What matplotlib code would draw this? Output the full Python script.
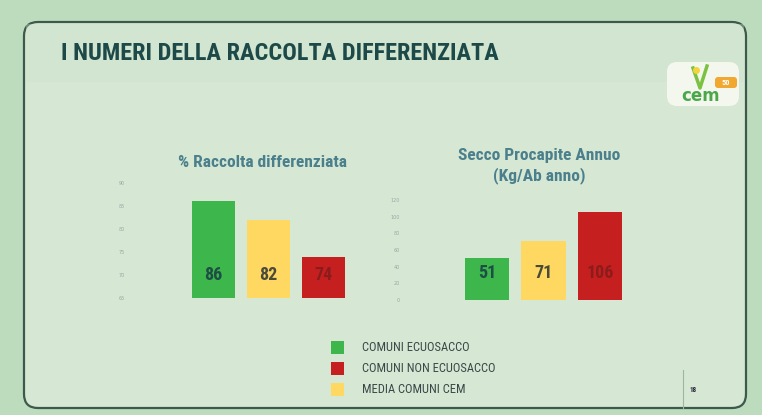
import matplotlib
matplotlib.use('Agg')
import matplotlib.pyplot as plt
from matplotlib.patches import FancyBboxPatch, Rectangle

# data
left_title = '% Raccolta differenziata'
left_vals = [86, 82, 74]
left_ticks = [65, 70, 75, 80, 85, 90]
right_title = 'Secco Procapite Annuo\n(Kg/Ab anno)'
right_vals = [51, 71, 106]
right_ticks = [0, 20, 40, 60, 80, 100, 120]
series = ['COMUNI ECUOSACCO', 'MEDIA COMUNI CEM', 'COMUNI NON ECUOSACCO']
legend_order = ['COMUNI ECUOSACCO', 'COMUNI NON ECUOSACCO', 'MEDIA COMUNI CEM']

colors = {'COMUNI ECUOSACCO': '#3db64b',
          'MEDIA COMUNI CEM': '#ffd862',
          'COMUNI NON ECUOSACCO': '#c61f1f'}
label_colors = {'COMUNI ECUOSACCO': '#1d4d45',
                'MEDIA COMUNI CEM': '#4a4a3a',
                'COMUNI NON ECUOSACCO': '#8c1c1c'}

COND = ['Roboto Condensed', 'DejaVu Sans']
W, H = 762, 415


def px(x0, y0, x1, y1):
    # pixel box (top-left origin) -> figure fraction rect
    return [x0 / W, 1 - y1 / H, (x1 - x0) / W, (y1 - y0) / H]


fig = plt.figure(figsize=(W / 100, H / 100), dpi=100)
fig.patch.set_facecolor('#bddcbd')

# slide panel
bg = fig.add_axes([0, 0, 1, 1])
bg.set_xlim(0, W)
bg.set_ylim(H, 0)
bg.axis('off')
bg.add_patch(FancyBboxPatch((24, 22), 722, 386, boxstyle='round,pad=0,rounding_size=14',
                            facecolor='#d6e8d4', edgecolor='#3c5a4c', lw=1.6))
bg.add_patch(Rectangle((26, 24), 718, 58, facecolor='#cbe2c9', edgecolor='none', alpha=0.35))
bg.text(61, 54, 'I NUMERI DELLA RACCOLTA DIFFERENZIATA', fontsize=17.5, fontweight='bold',
        color='#1d4a48', va='center', ha='left', family=COND)

# logo (approximation)
bg.add_patch(FancyBboxPatch((667, 62), 72, 44, boxstyle='round,pad=0,rounding_size=10',
                            facecolor='#f4f7ee', edgecolor='none'))
bg.plot([693, 700, 707], [68, 88, 66], color='#7cc242', lw=2.5)
bg.plot([696], [70], 'o', color='#f3d43a', ms=4)
bg.add_patch(FancyBboxPatch((715, 77), 22, 11, boxstyle='round,pad=0,rounding_size=3',
                            facecolor='#f0a830', edgecolor='none'))
bg.text(726, 82.5, '50', fontsize=6, fontweight='bold', color='white', ha='center',
        va='center', family=COND)
bg.text(701, 96, 'cem', fontsize=12, fontweight='bold', color='#4aa84a', ha='center',
        va='center')

# page number
bg.plot([683, 683], [370, 408], color='#9fb59f', lw=0.8)
bg.text(693, 390, '18', fontsize=5, fontweight='bold', color='#223', ha='center',
        va='center', family=COND)


def style_axis(ax, ticks, pad):
    ax.set_facecolor('none')
    ax.set_xlim(-0.6, 2.6)
    ax.set_ylim(ticks[0], ticks[-1])
    ax.set_yticks(ticks)
    ax.set_yticklabels([str(t) for t in ticks], fontsize=3.5, color='#9aaaa4')
    ax.tick_params(axis='y', length=0, pad=pad)
    ax.set_xticks([])
    for s in ax.spines.values():
        s.set_visible(False)


bar_cols = [colors[s] for s in series]

# left: bars start at the axis floor (65)
axl = fig.add_axes(px(180, 183, 357, 298))
axl.bar(range(3), [v - left_ticks[0] for v in left_vals], bottom=left_ticks[0], width=0.78,
        color=bar_cols, edgecolor='none')
style_axis(axl, left_ticks, 40)
for x, v, s in zip(range(3), left_vals, series):
    axl.text(x, 70, str(v), ha='center', va='center', fontsize=13,
             fontweight='bold', color=label_colors[s], family=COND)
bg.text(262, 162, left_title, ha='center', va='center', fontsize=12.5,
        fontweight='bold', color='#4b7f8c', family=COND)

# right
axr = fig.add_axes(px(453, 200, 634, 300))
axr.bar(range(3), right_vals, width=0.78, color=bar_cols, edgecolor='none')
style_axis(axr, right_ticks, 38)
for x, v, s in zip(range(3), right_vals, series):
    axr.text(x, 33, str(v), ha='center', va='center', fontsize=13,
             fontweight='bold', color=label_colors[s], family=COND)
bg.text(539, 166, right_title, ha='center', va='center', fontsize=12.5,
        fontweight='bold', color='#4b7f8c', family=COND, linespacing=1.3)

# legend
for i, name in enumerate(legend_order):
    y = 347 + i * 21
    bg.add_patch(Rectangle((331, y - 6), 13, 13, facecolor=colors[name], edgecolor='none'))
    bg.text(362, y + 0.5, name, ha='left', va='center', fontsize=9, color='#3a4848',
            family=COND)

fig.savefig('out.png', dpi=100, facecolor=fig.get_facecolor())
